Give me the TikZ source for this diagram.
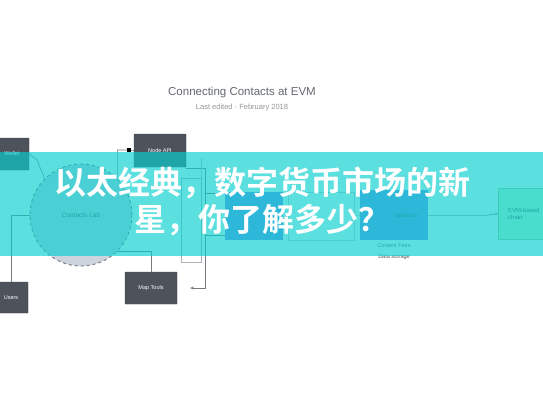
\documentclass[tikz,border=0pt]{standalone}
\usepackage{fontspec}
\setmainfont{Liberation Sans}
\newfontfamily\cjk{Noto Sans CJK SC Bold}
\usetikzlibrary{arrows.meta,calc}
\definecolor{darkbox}{RGB}{78,82,91}
\definecolor{banner}{RGB}{7,207,207}
\definecolor{bluebox}{RGB}{120,142,240}
\definecolor{greenbox}{RGB}{200,250,200}
\definecolor{circfill}{RGB}{205,212,222}
\definecolor{linegray}{RGB}{120,124,130}
\definecolor{titlegray}{RGB}{100,104,110}
\begin{document}
\begin{tikzpicture}[x=1pt,y=-1pt,
  dbox/.style={fill=darkbox,draw=darkbox!80!black,text=white,font=\fontsize{5.5}{6.5}\selectfont,inner sep=0pt,rounded corners=0.5pt},
  conn/.style={draw=linegray,line width=0.6pt},
  faint/.style={draw=linegray!50,line width=0.5pt},
  small/.style={font=\fontsize{5.5}{6.5}\selectfont,text=titlegray}]
\useasboundingbox (0,0) rectangle (543,408);
\fill[white] (0,0) rectangle (543,408);
% title
\node[font=\fontsize{11.5}{13}\selectfont,text=titlegray] (title) at (242,93) {Connecting Contacts at EVM};
\node[font=\fontsize{7.5}{9}\selectfont,text=titlegray!70] (sub) at (242,108) {Last edited · February 2018};
% nodes
\node[dbox,minimum width=34pt,minimum height=32pt] (tl) at (12,154) {Wallet};
\node[dbox,minimum width=52pt,minimum height=33pt] (tm) at (160,150.5) {Node API};
\node[draw=darkbox!80,dashed,line width=0.9pt,fill=circfill,circle,minimum size=102pt,inner sep=0pt,
      font=\fontsize{6.5}{7.5}\selectfont,text=darkbox] (circ) at (81,215) {Contacts Lab};
\node[dbox,minimum width=34pt,minimum height=31pt] (bl) at (11,297.5) {Users};
\node[dbox,minimum width=52pt,minimum height=32pt] (bm) at (151,288) {Map Tools};
\node[draw=linegray!60,line width=0.4pt,minimum width=20pt,minimum height=84pt] (frame) at (191,220) {};
\node[fill=bluebox,minimum width=58pt,minimum height=48pt] (b1) at (254,216) {};
\node[draw=linegray!40,minimum width=66pt,minimum height=48pt] (mid) at (321,216) {};
\node[fill=bluebox,minimum width=68pt,minimum height=50pt] (b2) at (394,215) {};
\node[font=\fontsize{5.5}{6.5}\selectfont,text=darkbox] (b2t) at (406,216) {Validation};
\node[small,anchor=north] (b2a) at (b2.south) {Content Fees};
\node[small,anchor=north,text=darkbox] (b2b) at (b2a.south) {Data storage};
\node[fill=greenbox,draw=greenbox!80!black,minimum width=60pt,minimum height=51pt,anchor=west,align=left,
      text width=40pt,font=\fontsize{6}{7}\selectfont,text=darkbox] (gr) at (498,213.5) {EVM-based\\chain};
% connectors
\coordinate (c1) at (37,160);
\draw[conn] (tl.east) -- (c1) -- (circ.north west);
\coordinate (sq) at (129,150);
\draw[conn] (circ.north east) |- (sq) -- (tm.west);
\fill[black] ($(sq)+(-2,-2)$) rectangle ($(sq)+(2,2)$);
\draw[conn] (circ.west) -| (bl.north);
\draw[conn] (circ.south east) -| (bm.north);
\coordinate (r1) at (205,168);
\coordinate (r2) at (205,288);
\coordinate (r3) at (190,288);
\draw[conn,-{Stealth[length=4pt]}] (tm.east |- r1) -- (r1) -- (r2) -- (r3);
\draw[faint] (frame.north east) -- ++(0,-20);
\coordinate (h1) at (205,193);
\coordinate (h2) at (205,235);
\draw[conn] (h1) -- (b1.west |- h1);
\draw[conn] (h2) -- (b1.west |- h2);
\draw[faint] (b1.east) -- (mid.west);
\draw[faint] (mid.east) -- (b2.west);
\draw[faint] (b2.east) -- ++(60,0) coordinate (ga);
\draw[conn,-{Stealth[length=3pt]}] (ga) -- (gr.west);
% banner
\fill[banner,fill opacity=0.66] (0,152) rectangle (543,256);
\node[text=white,align=center,font=\cjk\fontsize{32}{37}\selectfont] (head) at (262,201)
  {以太经典，数字货币市场的新\\星，你了解多少？};
\end{tikzpicture}
\end{document}
